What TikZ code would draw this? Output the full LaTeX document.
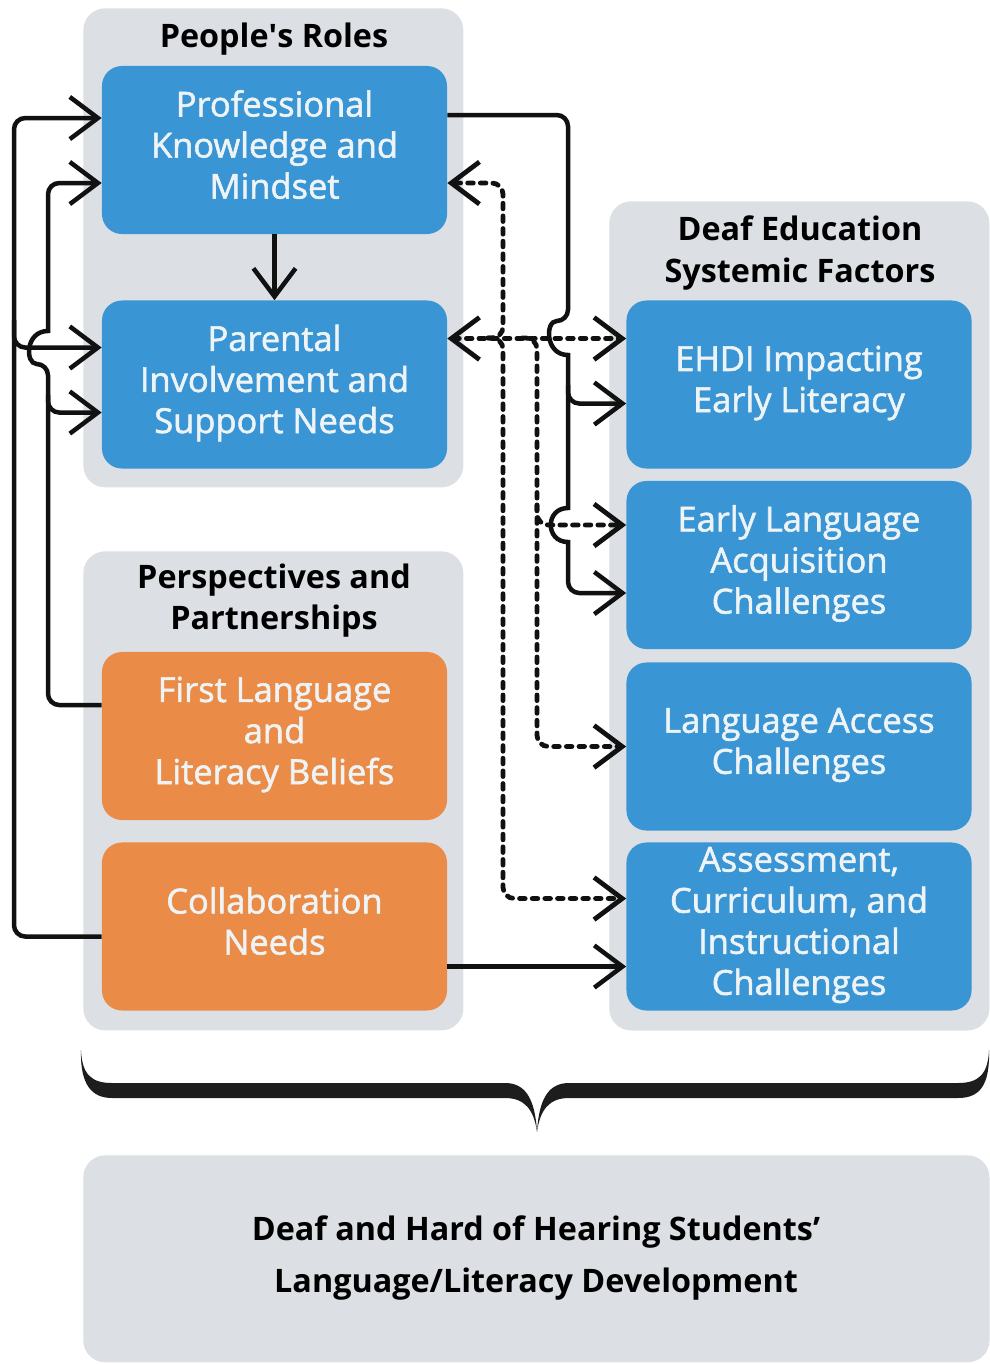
\documentclass[tikz,border=0pt]{standalone}
\usepackage{fontspec}
\setmainfont{Open Sans}
\newfontfamily\boxFont{Open Sans}[FakeBold=1.6]
\usetikzlibrary{arrows.meta,calc,positioning}

\definecolor{panelGray}{RGB}{220,224,229}
\definecolor{boxBlue}{RGB}{57,149,212}
\definecolor{boxOrange}{RGB}{234,140,72}
\definecolor{boxText}{RGB}{238,244,246}
\definecolor{lineBlack}{RGB}{17,17,17}

\begin{document}
\begin{tikzpicture}[
        x=0.025cm, y=-0.025cm,
        openTip/.tip={Straight Barb[length=20pt,width=30pt]},
        panelBox/.style={rectangle, rounded corners=0.55cm, fill=panelGray, anchor=north west, inner sep=0pt},
        factorNode/.style={rectangle, rounded corners=0.5cm, minimum width=8.625cm, minimum height=4.2cm, inner sep=0pt, text depth=8pt, text=boxText, align=center, font=\boxFont\fontsize{24.5}{29.2}\selectfont},
        blueNode/.style={factorNode, fill=boxBlue},
        orangeNode/.style={factorNode, fill=boxOrange},
        titleNode/.style={align=center, font=\fontsize{23}{29.2}\selectfont\bfseries},
        solidLink/.style={draw=lineBlack, line width=3.2pt, -openTip},
        dashedLink/.style={solidLink, line width=3.4pt, line cap=round, dash pattern=on 4pt off 5pt}
    ]
        \useasboundingbox (0,0) rectangle (989,1364);

        % Panels
        \node[panelBox, minimum width=9.5cm, minimum height=11.975cm] (rolesPanel) at (83,8) {};
        \node[panelBox, minimum width=9.5cm, minimum height=11.975cm] (perspPanel) at (83,551) {};
        \node[panelBox, minimum width=9.5cm, minimum height=20.725cm] (systemPanel) at (609,201) {};
        \node[panelBox, minimum width=22.65cm, minimum height=5.175cm] (outcomePanel) at (83,1155) {};

        % Panel titles
        \node[titleNode] (rolesTitle) at (274,39) {People\textquotesingle s Roles};
        \node[titleNode] (perspTitle) at (274,601) {Perspectives and\\Partnerships};
        \node[titleNode] (systemTitle) at (800,253) {Deaf Education\\Systemic Factors};
        \node[titleNode, font=\fontsize{23}{36.5}\selectfont\bfseries] (outcome) at (536,1258) {Deaf and Hard of Hearing Students’\\Language/Literacy Development};

        % Factor boxes
        \node[blueNode] (prof) at (274.5,150) {Professional\\Knowledge and\\Mindset};
        \node[blueNode] (parent) at (274.5,384.5) {Parental\\Involvement and\\Support Needs};
        \node[orangeNode] (belief) at (274.5,736) {First Language\\and\\Literacy Beliefs};
        \node[orangeNode] (collab) at (274.5,926.5) {Collaboration\\Needs};
        \node[blueNode] (ehdi) at (799,384.5) {EHDI Impacting\\Early Literacy};
        \node[blueNode] (early) at (799,565) {Early Language\\Acquisition\\Challenges};
        \node[blueNode] (access) at (799,746.5) {Language Access\\Challenges};
        \node[blueNode] (assess) at (799,926.5) {Assessment,\\Curriculum, and\\Instructional\\Challenges};

        % Left links
        \draw[solidLink, rounded corners=8pt] ($(collab.west)+(0,10)$) -| (14,200) |- ($(prof.west)+(0,-32)$);
        \draw[solidLink, rounded corners=8pt] (14,320) |- ($(parent.west)+(0,-37)$);
        \draw[solidLink, rounded corners=8pt] ($(belief.west)+(0,-31)$) -| (48,364) [sharp corners] .. controls (25,364) and (25,331) .. (48,331) [rounded corners=8pt] |- ($(prof.west)+(0,33)$);
        \draw[solidLink, rounded corners=8pt] (48,395) |- ($(parent.west)+(0,28)$);
        \draw[solidLink] (prof) -- (parent);

        % Right links
        \draw[solidLink, rounded corners=8pt] ($(prof.east)+(0,-35)$) -| (568,321) [sharp corners] .. controls (545,321) and (545,355) .. (568,355) -- (568,508) .. controls (545,508) and (545,542) .. (568,542) [rounded corners=8pt] |- ($(early.west)+(0,28)$);
        \draw[solidLink, rounded corners=8pt] (568,385) |- ($(ehdi.west)+(0,19)$);
        \draw[solidLink] ($(collab.east)+(0,40)$) -- ($(assess.west)+(0,40)$);

        % Dashed links
        \draw[dashedLink, openTip-openTip] ($(parent.east)+(0,-46)$) -- ($(ehdi.west)+(0,-46)$);
        \draw[dashedLink, rounded corners=8pt] (488,338) -| (503,220) |- ($(prof.east)+(0,33)$);
        \draw[dashedLink, rounded corners=8pt] (488,338) -| (503,600) |- ($(assess.west)+(0,-28)$);
        \draw[dashedLink, rounded corners=8pt] (522,338) -| (537,600) |- (access.west);
        \draw[dashedLink, rounded corners=8pt] (537,505) |- ($(early.west)+(0,-40)$);

        % Brace
        \fill[lineBlack!95] (81,1050) .. controls (82,1075) and (92,1083) .. (112,1083) -- (505,1083)
            .. controls (525,1083) and (535,1098) .. (537,1132)
            .. controls (539,1098) and (549,1083) .. (569,1083) -- (958,1083)
            .. controls (978,1083) and (988,1075) .. (989,1050)
            .. controls (990,1085) and (980,1098) .. (958,1098) -- (569,1098)
            .. controls (549,1098) and (540,1110) .. (537,1132)
            .. controls (534,1110) and (525,1098) .. (505,1098) -- (112,1098)
            .. controls (92,1098) and (80,1085) .. (81,1050) -- cycle;
    \end{tikzpicture}
\end{document}
